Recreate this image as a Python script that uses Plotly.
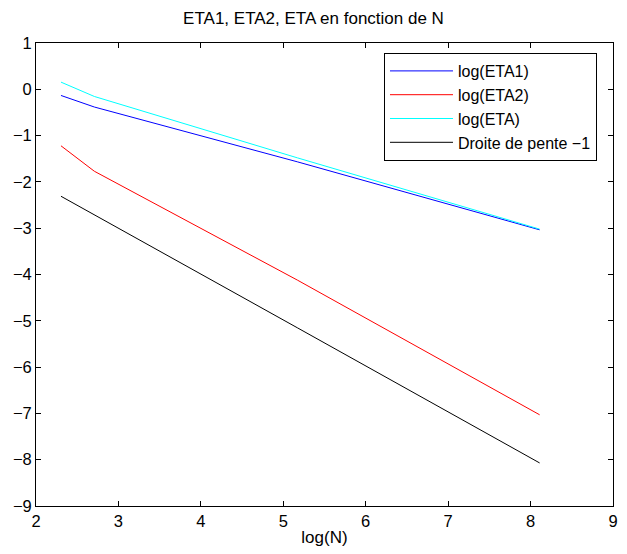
import plotly.graph_objects as go

# log(N) sample points (vertices visible in the picture)
log_n = [2.303, 2.708, 5.17, 8.11]
log_eta1 = [-0.133, -0.383, -1.566, -3.035]
log_eta2 = [-1.22, -1.77, -4.12, -7.03]
log_eta = [0.155, -0.155, -1.48, -3.02]
slope_line = [-2.31, -2.71, -5.15, -8.07]

names = ["log(ETA1)", "log(ETA2)", "log(ETA)", "Droite de pente \u22121"]
colors = ["#0000ff", "#ff0000", "#00ffff", "#000000"]
series = [log_eta1, log_eta2, log_eta, slope_line]

x_ticks = [2, 3, 4, 5, 6, 7, 8, 9]
y_ticks = [1, 0, -1, -2, -3, -4, -5, -6, -7, -8, -9]

fig = go.Figure()
for name, col, ys in zip(names, colors, series):
    fig.add_trace(go.Scatter(x=log_n, y=ys, mode="lines", name=name,
                             line=dict(color=col, width=1)))

axis_common = dict(showgrid=False, zeroline=False, showline=True, linecolor="black",
                   linewidth=1, mirror="allticks", ticks="inside", ticklen=5,
                   tickcolor="black", tickfont=dict(size=16.5, color="black"))

fig.update_layout(
    width=627, height=554,
    margin=dict(l=36, r=9, t=43, b=48),
    paper_bgcolor="white", plot_bgcolor="white",
    font=dict(family="Liberation Sans, Arial, sans-serif", color="black", size=17),
    title=dict(text="ETA1, ETA2, ETA en fonction de N", x=0.5, xanchor="center",
               y=1 - 18 / 554, yanchor="middle", font=dict(size=17)),
    xaxis=dict(range=[2, 9], tickvals=x_ticks,
               ticktext=[str(v) for v in x_ticks],
               title=dict(text="log(N)", standoff=2, font=dict(size=17)), **axis_common),
    yaxis=dict(range=[-9, 1], tickvals=y_ticks,
               ticktext=[str(v).replace("-", "\u2212") for v in y_ticks], **axis_common),
    legend=dict(x=(387 - 36) / 582, y=(506 - 53) / 463, xanchor="left", yanchor="top",
                bordercolor="black", borderwidth=1, bgcolor="white",
                font=dict(size=16), itemwidth=63, tracegroupgap=0),
    showlegend=True,
)

fig.write_html("out.html")
